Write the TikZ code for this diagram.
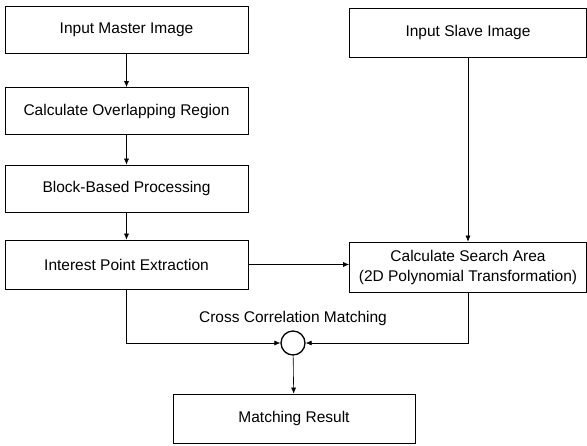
\documentclass[tikz,border=0pt]{standalone}
\usepackage{fontspec}
\setmainfont{Liberation Sans}
\usetikzlibrary{arrows.meta}
\begin{document}
\begin{tikzpicture}[x=1pt, y=1pt,
		every node/.style={font=\fontsize{15.5}{20}\selectfont},
		procbox/.style={draw, line width=0.7pt, minimum height=47pt, inner sep=0pt, align=center},
		flow/.style={line width=0.6pt, -{Latex[length=6pt, width=5pt]}},
		joint/.style={draw, circle, line width=1.3pt, minimum size=24pt, inner sep=0pt}]
				\useasboundingbox (0, 0) rectangle (587, -445);

				%%left column
				\node[procbox, minimum width=243pt] (master) at (126.5, -30) {Input Master Image};
				\node[procbox, minimum width=243pt] (overlap) at (126.5, -111) {Calculate Overlapping Region};
				\node[procbox, minimum width=243pt] (block) at (126.5, -188.5) {Block-Based Processing};
				\node[procbox, minimum width=243pt, minimum height=49pt] (interest) at (126.5, -264.5) {Interest Point Extraction};

				%%right column
				\node[procbox, minimum width=237pt, minimum height=49pt] (slave) at (468, -32.5) {Input Slave Image};
				\node[procbox, minimum width=237pt, minimum height=50pt] (search) at (468, -267) {Calculate Search Area\\(2D Polynomial Transformation)};

				%%matching
				\node[joint] (corr) at (293, -343) {};
				\node (corrlabel) at (293, -318) {Cross Correlation Matching};
				\node[procbox, minimum width=242pt, minimum height=49pt] (result) at (294, -418.5) {Matching Result};

				%%Drawing the arrows
				\draw[flow] (master) to (overlap);
				\draw[flow] (overlap) to (block);
				\draw[flow] (block) to (interest);
				\draw[flow] (slave) to (search);
				\draw[flow] (interest.east) to (interest.east -| search.west);
				\draw[flow] (interest.south) |- (corr.west);
				\draw[flow] (search.south) |- (corr.east);
				\draw[flow] (corr) to (result);
			\end{tikzpicture}
\end{document}
